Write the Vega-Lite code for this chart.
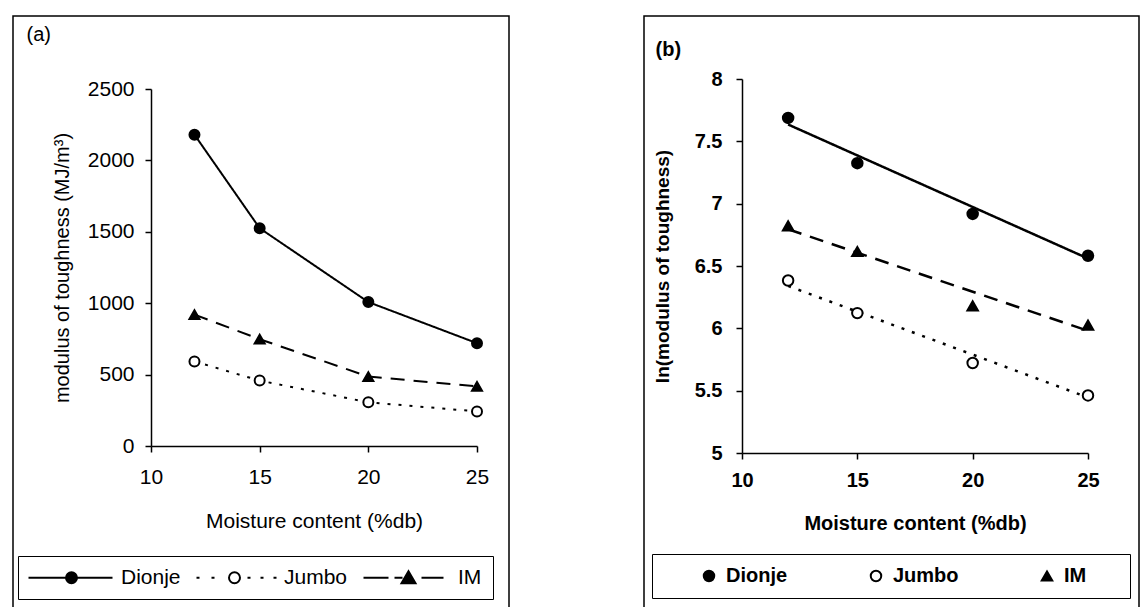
{
  "$schema": "https://vega.github.io/schema/vega-lite/v6.json",
  "padding": {"left": 12, "top": 15, "right": 0, "bottom": 0},
  "spacing": 123,
  "resolve": {"scale": {"shape": "independent", "fill": "independent", "stroke": "independent", "strokeDash": "independent"}, "legend": {"shape": "independent", "fill": "independent", "stroke": "independent", "strokeDash": "independent"}},
  "config": {
    "font": "Liberation Sans",
    "view": {"stroke": "black", "strokeWidth": 1.5},
    "axis": {"grid": false, "domainColor": "black", "tickColor": "black", "labelColor": "black", "titleColor": "black", "domainWidth": 1.5, "tickWidth": 1.5, "labelFlush": false, "titleFontWeight": "normal", "labelOverlap": false}
  },
  "datasets": {
    "a": [
      {"moisture": 12, "toughness": 2180, "variety": "Dionje"},
      {"moisture": 15, "toughness": 1525, "variety": "Dionje"},
      {"moisture": 20, "toughness": 1008, "variety": "Dionje"},
      {"moisture": 25, "toughness": 720, "variety": "Dionje"},
      {"moisture": 12, "toughness": 592, "variety": "Jumbo"},
      {"moisture": 15, "toughness": 458, "variety": "Jumbo"},
      {"moisture": 20, "toughness": 306, "variety": "Jumbo"},
      {"moisture": 25, "toughness": 242, "variety": "Jumbo"},
      {"moisture": 12, "toughness": 920, "variety": "IM"},
      {"moisture": 15, "toughness": 748, "variety": "IM"},
      {"moisture": 20, "toughness": 486, "variety": "IM"},
      {"moisture": 25, "toughness": 418, "variety": "IM"}
    ],
    "bpts": [
      {"moisture": 12, "ln": 7.688, "variety": "Dionje"},
      {"moisture": 15, "ln": 7.325, "variety": "Dionje"},
      {"moisture": 20, "ln": 6.918, "variety": "Dionje"},
      {"moisture": 25, "ln": 6.582, "variety": "Dionje"},
      {"moisture": 12, "ln": 6.384, "variety": "Jumbo"},
      {"moisture": 15, "ln": 6.122, "variety": "Jumbo"},
      {"moisture": 20, "ln": 5.722, "variety": "Jumbo"},
      {"moisture": 25, "ln": 5.462, "variety": "Jumbo"},
      {"moisture": 12, "ln": 6.822, "variety": "IM"},
      {"moisture": 15, "ln": 6.616, "variety": "IM"},
      {"moisture": 20, "ln": 6.18, "variety": "IM"},
      {"moisture": 25, "ln": 6.026, "variety": "IM"}
    ],
    "bfit": [
      {"moisture": 12, "fit": 7.635, "variety": "Dionje"},
      {"moisture": 25, "fit": 6.56, "variety": "Dionje"},
      {"moisture": 12, "fit": 6.34, "variety": "Jumbo"},
      {"moisture": 25, "fit": 5.445, "variety": "Jumbo"},
      {"moisture": 12, "fit": 6.795, "variety": "IM"},
      {"moisture": 25, "fit": 5.98, "variety": "IM"}
    ]
  },
  "hconcat": [
    {
      "width": 496,
      "height": 592,
      "layer": [
        {
          "data": {"name": "a"},
          "mark": {"type": "line", "color": "black", "strokeWidth": 2},
          "encoding": {
            "x": {"field": "moisture", "type": "quantitative",
              "scale": {"domain": [10, 25], "range": [138, 464], "nice": false, "zero": false},
              "axis": {"orient": "bottom", "values": [10, 15, 20, 25], "format": "d", "offset": -162, "tickSize": 6, "labelPadding": 14, "labelFontSize": 21, "title": "Moisture content (%db)", "titleFontSize": 21, "titlePadding": 23}},
            "y": {"field": "toughness", "type": "quantitative",
              "scale": {"domain": [0, 2500], "range": [430, 73], "nice": false, "zero": false},
              "axis": {"values": [0, 500, 1000, 1500, 2000, 2500], "format": "d", "offset": -138, "tickSize": 6, "labelPadding": 11, "labelFontSize": 21, "title": "modulus of toughness (MJ/m³)", "titleFontSize": 20, "titlePadding": 15}},
            "strokeDash": {"field": "variety", "type": "nominal",
              "scale": {"domain": ["Dionje", "Jumbo", "IM"], "range": [[1, 0], [3, 8], [14, 9]]}, "legend": null}
          }
        },
        {
          "data": {"name": "a"},
          "mark": {"type": "point", "filled": true, "stroke": "black", "strokeWidth": 2, "size": 100, "opacity": 1},
          "encoding": {
            "x": {"field": "moisture", "type": "quantitative",
              "axis": {"orient": "top", "domain": false, "ticks": false, "labels": false, "offset": 0, "title": "(a)", "titleX": 13, "titleY": 18, "titleAlign": "left", "titleAnchor": "start", "titleBaseline": "middle", "titleAngle": 0, "titleFontSize": 20, "titlePadding": 0}},
            "y": {"field": "toughness", "type": "quantitative"},
            "shape": {"field": "variety", "type": "nominal", "scale": {"domain": ["Dionje", "Jumbo", "IM"], "range": ["circle", "circle", "triangle-up"]}, "legend": null},
            "fill": {"field": "variety", "type": "nominal", "scale": {"domain": ["Dionje", "Jumbo", "IM"], "range": ["black", "white", "black"]}, "legend": null}
          }
        },
        {
          "data": {"name": "a"},
          "mark": {"type": "point", "filled": true, "strokeWidth": 2, "size": 100, "opacity": 0},
          "encoding": {
            "x": {"field": "moisture", "type": "quantitative", "axis": null},
            "y": {"field": "toughness", "type": "quantitative"},
            "shape": {"field": "variety", "type": "nominal",
              "scale": {"domain": ["Dionje", "Jumbo", "IM"], "range": [
                "M-8.6,0H-1.1M1.1,0H8.2M1.1,0A1.1,1.1,0,1,1,-1.1,0A1.1,1.1,0,1,1,1.1,0Z",
                "M-7.6,0H-7M-4.6,0H-4M2.6,0H3.2M5.2,0H5.8M7.8,0H8.4M1.1,0A1.1,1.1,0,1,1,-1.1,0A1.1,1.1,0,1,1,1.1,0Z",
                "M-9,0H-4M-2.8,0H-1.2M2.6,0H7M0,-1.3L1.4,1.1L-1.4,1.1Z"
              ]},
              "legend": {"orient": "none", "legendX": 5, "legendY": 540, "direction": "horizontal", "title": null, "strokeColor": "black", "padding": 11, "symbolSize": 100, "symbolStrokeWidth": 2, "symbolOpacity": 1, "symbolOffset": 32, "labelFontSize": 21, "labelOffset": 39, "columnPadding": 11, "labelColor": "black"}},
            "fill": {"field": "variety", "type": "nominal", "scale": {"domain": ["Dionje", "Jumbo", "IM"], "range": ["black", "white", "black"]},
              "legend": {"orient": "none", "legendX": 5, "legendY": 540, "direction": "horizontal", "title": null, "strokeColor": "black", "padding": 11, "symbolSize": 100, "symbolStrokeWidth": 2, "symbolOpacity": 1, "symbolOffset": 32, "labelFontSize": 21, "labelOffset": 39, "columnPadding": 11, "labelColor": "black"}},
            "stroke": {"field": "variety", "type": "nominal", "scale": {"domain": ["Dionje", "Jumbo", "IM"], "range": ["black", "black", "black"]},
              "legend": {"orient": "none", "legendX": 5, "legendY": 540, "direction": "horizontal", "title": null, "strokeColor": "black", "padding": 11, "symbolSize": 100, "symbolStrokeWidth": 2, "symbolOpacity": 1, "symbolOffset": 32, "labelFontSize": 21, "labelOffset": 39, "columnPadding": 11, "labelColor": "black"}}
          }
        }
      ],
      "resolve": {"scale": {"shape": "independent", "fill": "independent", "stroke": "independent"}, "axis": {"x": "independent"}}
    },
    {
      "width": 495,
      "height": 592,
      "layer": [
        {
          "data": {"name": "bfit"},
          "mark": {"type": "line", "color": "black", "strokeWidth": 2.5},
          "encoding": {
            "x": {"field": "moisture", "type": "quantitative",
              "scale": {"domain": [10, 25], "range": [98, 444], "nice": false, "zero": false},
              "axis": {"orient": "bottom", "values": [10, 15, 20, 25], "format": "d", "offset": -155, "tickSize": 6, "labelPadding": 11, "labelFontSize": 20, "labelFontWeight": "bold", "title": "Moisture content (%db)", "titleFontSize": 20, "titleFontWeight": "bold", "titlePadding": 23}},
            "y": {"field": "fit", "type": "quantitative",
              "scale": {"domain": [5, 8], "range": [437, 63], "nice": false, "zero": false},
              "axis": {"values": [5, 5.5, 6, 6.5, 7, 7.5, 8], "format": "~g", "offset": -98, "tickSize": 6, "labelPadding": 14, "labelFontSize": 20, "labelFontWeight": "bold", "title": "ln(modulus of toughness)", "titleFontSize": 19, "titleFontWeight": "bold", "titlePadding": 22}},
            "strokeDash": {"field": "variety", "type": "nominal",
              "scale": {"domain": ["Dionje", "Jumbo", "IM"], "range": [[1, 0], [3, 8], [14, 9]]}, "legend": null}
          }
        },
        {
          "data": {"name": "bpts"},
          "mark": {"type": "point", "filled": true, "stroke": "black", "strokeWidth": 2, "size": 110, "opacity": 1},
          "encoding": {
            "x": {"field": "moisture", "type": "quantitative",
              "axis": {"orient": "top", "domain": false, "ticks": false, "labels": false, "offset": 0, "title": "(b)", "titleX": 11, "titleY": 33, "titleAlign": "left", "titleAnchor": "start", "titleBaseline": "middle", "titleAngle": 0, "titleFontSize": 20, "titleFontWeight": "bold", "titlePadding": 0}},
            "y": {"field": "ln", "type": "quantitative"},
            "shape": {"field": "variety", "type": "nominal", "scale": {"domain": ["Dionje", "Jumbo", "IM"], "range": ["circle", "circle", "triangle-up"]}, "legend": null},
            "fill": {"field": "variety", "type": "nominal", "scale": {"domain": ["Dionje", "Jumbo", "IM"], "range": ["black", "white", "black"]}, "legend": null}
          }
        },
        {
          "data": {"name": "bpts"},
          "mark": {"type": "point", "filled": true, "strokeWidth": 2, "size": 110, "opacity": 0},
          "encoding": {
            "x": {"field": "moisture", "type": "quantitative", "axis": null},
            "y": {"field": "ln", "type": "quantitative"},
            "shape": {"field": "variety", "type": "nominal", "scale": {"domain": ["Dionje", "Jumbo", "IM"], "range": ["circle", "circle", "triangle-up"]},
              "legend": {"orient": "none", "legendX": 8, "legendY": 538, "direction": "horizontal", "title": "\u00a0", "titleOrient": "right", "titlePadding": 32, "strokeColor": "black", "padding": 12, "symbolSize": 110, "symbolStrokeWidth": 2, "symbolOpacity": 1, "symbolOffset": 35, "labelFontSize": 20, "labelFontWeight": "bold", "labelOffset": 7, "columnPadding": 43, "labelColor": "black"}},
            "fill": {"field": "variety", "type": "nominal", "scale": {"domain": ["Dionje", "Jumbo", "IM"], "range": ["black", "white", "black"]},
              "legend": {"orient": "none", "legendX": 8, "legendY": 538, "direction": "horizontal", "title": "\u00a0", "titleOrient": "right", "titlePadding": 32, "strokeColor": "black", "padding": 12, "symbolSize": 110, "symbolStrokeWidth": 2, "symbolOpacity": 1, "symbolOffset": 35, "labelFontSize": 20, "labelFontWeight": "bold", "labelOffset": 7, "columnPadding": 43, "labelColor": "black"}},
            "stroke": {"field": "variety", "type": "nominal", "scale": {"domain": ["Dionje", "Jumbo", "IM"], "range": ["black", "black", "black"]},
              "legend": {"orient": "none", "legendX": 8, "legendY": 538, "direction": "horizontal", "title": "\u00a0", "titleOrient": "right", "titlePadding": 32, "strokeColor": "black", "padding": 12, "symbolSize": 110, "symbolStrokeWidth": 2, "symbolOpacity": 1, "symbolOffset": 35, "labelFontSize": 20, "labelFontWeight": "bold", "labelOffset": 7, "columnPadding": 43, "labelColor": "black"}}
          }
        }
      ],
      "resolve": {"scale": {"shape": "independent", "fill": "independent", "stroke": "independent"}, "axis": {"x": "independent"}}
    }
  ]
}
